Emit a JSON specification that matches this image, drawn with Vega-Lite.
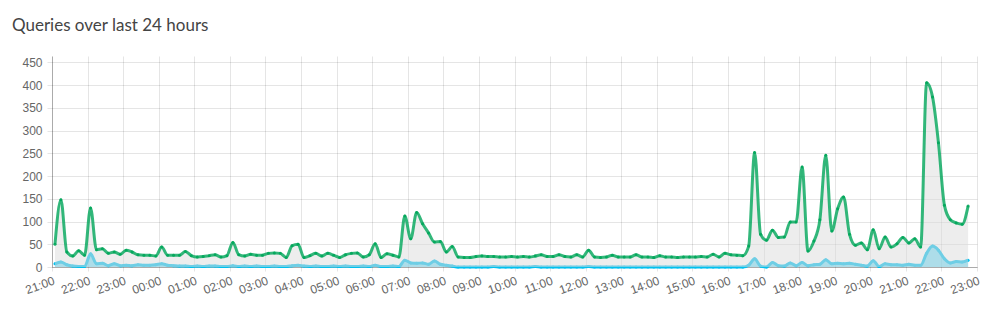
{
  "$schema": "https://vega.github.io/schema/vega-lite/v6.json",
  "autosize": {"type": "none"},
  "width": 925,
  "height": 211,
  "padding": {"left": 52, "top": 56, "right": 17, "bottom": 53},
  "background": "white",
  "title": {"text": "Queries over last 24 hours", "anchor": "start", "dx": -10, "offset": 21, "font": "Lato", "fontSize": 17, "fontWeight": "normal", "color": "#444"},
  "data": {"values": [
    {"t":"2024-01-01T21:05","total":50,"blocked":7},{"t":"2024-01-01T21:15","total":148,"blocked":11},{"t":"2024-01-01T21:25","total":33,"blocked":5},{"t":"2024-01-01T21:35","total":24,"blocked":2},{"t":"2024-01-01T21:45","total":36,"blocked":1},{"t":"2024-01-01T21:55","total":26,"blocked":1},
    {"t":"2024-01-01T22:05","total":130,"blocked":29},{"t":"2024-01-01T22:15","total":38,"blocked":7},{"t":"2024-01-01T22:25","total":40,"blocked":8},{"t":"2024-01-01T22:35","total":30,"blocked":3},{"t":"2024-01-01T22:45","total":33,"blocked":7},{"t":"2024-01-01T22:55","total":28,"blocked":3},
    {"t":"2024-01-01T23:05","total":37,"blocked":4},{"t":"2024-01-01T23:15","total":33,"blocked":3},{"t":"2024-01-01T23:25","total":27,"blocked":5},{"t":"2024-01-01T23:35","total":26,"blocked":4},{"t":"2024-01-01T23:45","total":26,"blocked":4},{"t":"2024-01-01T23:55","total":24,"blocked":5},
    {"t":"2024-01-02T00:05","total":44,"blocked":7},{"t":"2024-01-02T00:15","total":26,"blocked":4},{"t":"2024-01-02T00:25","total":26,"blocked":3},{"t":"2024-01-02T00:35","total":26,"blocked":2},{"t":"2024-01-02T00:45","total":34,"blocked":2},{"t":"2024-01-02T00:55","total":25,"blocked":1},
    {"t":"2024-01-02T01:05","total":22,"blocked":2},{"t":"2024-01-02T01:15","total":23,"blocked":1},{"t":"2024-01-02T01:25","total":25,"blocked":2},{"t":"2024-01-02T01:35","total":27,"blocked":2},{"t":"2024-01-02T01:45","total":22,"blocked":1},{"t":"2024-01-02T01:55","total":25,"blocked":1},
    {"t":"2024-01-02T02:05","total":54,"blocked":3},{"t":"2024-01-02T02:15","total":27,"blocked":1},{"t":"2024-01-02T02:25","total":24,"blocked":2},{"t":"2024-01-02T02:35","total":28,"blocked":1},{"t":"2024-01-02T02:45","total":26,"blocked":2},{"t":"2024-01-02T02:55","total":26,"blocked":1},
    {"t":"2024-01-02T03:05","total":30,"blocked":1},{"t":"2024-01-02T03:15","total":31,"blocked":2},{"t":"2024-01-02T03:25","total":30,"blocked":1},{"t":"2024-01-02T03:35","total":21,"blocked":1},{"t":"2024-01-02T03:45","total":47,"blocked":3},{"t":"2024-01-02T03:55","total":50,"blocked":4},
    {"t":"2024-01-02T04:05","total":21,"blocked":2},{"t":"2024-01-02T04:15","total":25,"blocked":1},{"t":"2024-01-02T04:25","total":30,"blocked":2},{"t":"2024-01-02T04:35","total":24,"blocked":1},{"t":"2024-01-02T04:45","total":30,"blocked":1},{"t":"2024-01-02T04:55","total":26,"blocked":2},
    {"t":"2024-01-02T05:05","total":21,"blocked":1},{"t":"2024-01-02T05:15","total":27,"blocked":2},{"t":"2024-01-02T05:25","total":30,"blocked":1},{"t":"2024-01-02T05:35","total":31,"blocked":1},{"t":"2024-01-02T05:45","total":22,"blocked":2},{"t":"2024-01-02T05:55","total":27,"blocked":1},
    {"t":"2024-01-02T06:05","total":51,"blocked":4},{"t":"2024-01-02T06:15","total":21,"blocked":1},{"t":"2024-01-02T06:25","total":29,"blocked":1},{"t":"2024-01-02T06:35","total":26,"blocked":2},{"t":"2024-01-02T06:45","total":22,"blocked":1},{"t":"2024-01-02T06:55","total":112,"blocked":15},
    {"t":"2024-01-02T07:05","total":62,"blocked":9},{"t":"2024-01-02T07:15","total":120,"blocked":8},{"t":"2024-01-02T07:25","total":95,"blocked":9},{"t":"2024-01-02T07:35","total":75,"blocked":6},{"t":"2024-01-02T07:45","total":55,"blocked":13},{"t":"2024-01-02T07:55","total":56,"blocked":6},
    {"t":"2024-01-02T08:05","total":33,"blocked":4},{"t":"2024-01-02T08:15","total":45,"blocked":2},{"t":"2024-01-02T08:25","total":22,"blocked":0},{"t":"2024-01-02T08:35","total":21,"blocked":0},{"t":"2024-01-02T08:45","total":21,"blocked":0},{"t":"2024-01-02T08:55","total":23,"blocked":0},
    {"t":"2024-01-02T09:05","total":24,"blocked":0},{"t":"2024-01-02T09:15","total":23,"blocked":0},{"t":"2024-01-02T09:25","total":23,"blocked":1},{"t":"2024-01-02T09:35","total":22,"blocked":0},{"t":"2024-01-02T09:45","total":22,"blocked":0},{"t":"2024-01-02T09:55","total":23,"blocked":0},
    {"t":"2024-01-02T10:05","total":22,"blocked":0},{"t":"2024-01-02T10:15","total":23,"blocked":0},{"t":"2024-01-02T10:25","total":22,"blocked":0},{"t":"2024-01-02T10:35","total":24,"blocked":1},{"t":"2024-01-02T10:45","total":27,"blocked":0},{"t":"2024-01-02T10:55","total":23,"blocked":0},
    {"t":"2024-01-02T11:05","total":23,"blocked":0},{"t":"2024-01-02T11:15","total":27,"blocked":0},{"t":"2024-01-02T11:25","total":23,"blocked":0},{"t":"2024-01-02T11:35","total":22,"blocked":0},{"t":"2024-01-02T11:45","total":27,"blocked":0},{"t":"2024-01-02T11:55","total":22,"blocked":0},
    {"t":"2024-01-02T12:05","total":37,"blocked":1},{"t":"2024-01-02T12:15","total":22,"blocked":0},{"t":"2024-01-02T12:25","total":21,"blocked":0},{"t":"2024-01-02T12:35","total":22,"blocked":0},{"t":"2024-01-02T12:45","total":26,"blocked":0},{"t":"2024-01-02T12:55","total":22,"blocked":0},
    {"t":"2024-01-02T13:05","total":22,"blocked":0},{"t":"2024-01-02T13:15","total":22,"blocked":0},{"t":"2024-01-02T13:25","total":27,"blocked":0},{"t":"2024-01-02T13:35","total":22,"blocked":0},{"t":"2024-01-02T13:45","total":22,"blocked":0},{"t":"2024-01-02T13:55","total":21,"blocked":0},
    {"t":"2024-01-02T14:05","total":25,"blocked":0},{"t":"2024-01-02T14:15","total":22,"blocked":0},{"t":"2024-01-02T14:25","total":22,"blocked":0},{"t":"2024-01-02T14:35","total":21,"blocked":0},{"t":"2024-01-02T14:45","total":22,"blocked":0},{"t":"2024-01-02T14:55","total":22,"blocked":0},
    {"t":"2024-01-02T15:05","total":22,"blocked":0},{"t":"2024-01-02T15:15","total":23,"blocked":0},{"t":"2024-01-02T15:25","total":22,"blocked":0},{"t":"2024-01-02T15:35","total":28,"blocked":0},{"t":"2024-01-02T15:45","total":22,"blocked":0},{"t":"2024-01-02T15:55","total":30,"blocked":0},
    {"t":"2024-01-02T16:05","total":27,"blocked":0},{"t":"2024-01-02T16:15","total":26,"blocked":0},{"t":"2024-01-02T16:25","total":25,"blocked":0},{"t":"2024-01-02T16:35","total":46,"blocked":4},{"t":"2024-01-02T16:45","total":252,"blocked":18},{"t":"2024-01-02T16:55","total":72,"blocked":2},
    {"t":"2024-01-02T17:05","total":59,"blocked":0},{"t":"2024-01-02T17:15","total":81,"blocked":10},{"t":"2024-01-02T17:25","total":65,"blocked":3},{"t":"2024-01-02T17:35","total":66,"blocked":2},{"t":"2024-01-02T17:45","total":99,"blocked":9},{"t":"2024-01-02T17:55","total":99,"blocked":3},
    {"t":"2024-01-02T18:05","total":220,"blocked":10},{"t":"2024-01-02T18:15","total":35,"blocked":3},{"t":"2024-01-02T18:25","total":57,"blocked":5},{"t":"2024-01-02T18:35","total":104,"blocked":6},{"t":"2024-01-02T18:45","total":246,"blocked":16},{"t":"2024-01-02T18:55","total":79,"blocked":7},
    {"t":"2024-01-02T19:05","total":128,"blocked":8},{"t":"2024-01-02T19:15","total":154,"blocked":7},{"t":"2024-01-02T19:25","total":72,"blocked":8},{"t":"2024-01-02T19:35","total":48,"blocked":6},{"t":"2024-01-02T19:45","total":53,"blocked":4},{"t":"2024-01-02T19:55","total":38,"blocked":2},
    {"t":"2024-01-02T20:05","total":82,"blocked":14},{"t":"2024-01-02T20:15","total":40,"blocked":1},{"t":"2024-01-02T20:25","total":66,"blocked":7},{"t":"2024-01-02T20:35","total":44,"blocked":5},{"t":"2024-01-02T20:45","total":51,"blocked":5},{"t":"2024-01-02T20:55","total":65,"blocked":4},
    {"t":"2024-01-02T21:05","total":53,"blocked":6},{"t":"2024-01-02T21:15","total":62,"blocked":4},{"t":"2024-01-02T21:25","total":44,"blocked":4},{"t":"2024-01-02T21:35","total":405,"blocked":30},{"t":"2024-01-02T21:45","total":374,"blocked":46},{"t":"2024-01-02T21:55","total":273,"blocked":37},
    {"t":"2024-01-02T22:05","total":136,"blocked":18},{"t":"2024-01-02T22:15","total":104,"blocked":9},{"t":"2024-01-02T22:25","total":97,"blocked":12},{"t":"2024-01-02T22:35","total":94,"blocked":11},{"t":"2024-01-02T22:45","total":134,"blocked":15}
  ]},
  "encoding": {
    "x": {
      "field": "t", "type": "temporal", "title": null,
      "scale": {"domain": [{"year": 2024, "month": 1, "date": 1, "hours": 21}, {"year": 2024, "month": 1, "date": 2, "hours": 23}]},
      "axis": {"format": "%H:%M", "tickCount": 26, "labelAngle": -20, "labelAlign": "right", "labelBaseline": "top", "labelPadding": 4, "tickSize": 4, "labelOverlap": false, "labelFlush": false}
    }
  },
  "layer": [
    {"mark": {"type": "area", "interpolate": "monotone", "color": "#00c0ef", "opacity": 0.5},
     "encoding": {"y": {"field": "blocked", "type": "quantitative", "title": null, "scale": {"domain": [0, 464], "nice": false}, "axis": {"values": [0, 50, 100, 150, 200, 250, 300, 350, 400, 450], "tickSize": 5, "labelPadding": 5}}}},
    {"mark": {"type": "line", "interpolate": "monotone", "color": "#00c0ef", "strokeWidth": 3},
     "encoding": {"y": {"field": "blocked", "type": "quantitative", "title": null, "axis": {"values": [0, 50, 100, 150, 200, 250, 300, 350, 400, 450], "tickSize": 5, "labelPadding": 5}}}},
    {"mark": {"type": "circle", "color": "#00c0ef", "size": 9, "opacity": 1},
     "encoding": {"y": {"field": "blocked", "type": "quantitative", "title": null, "axis": {"values": [0, 50, 100, 150, 200, 250, 300, 350, 400, 450], "tickSize": 5, "labelPadding": 5}}}},
    {"mark": {"type": "area", "interpolate": "monotone", "color": "#dcdcdc", "opacity": 0.5},
     "encoding": {"y": {"field": "total", "type": "quantitative", "title": null, "axis": {"values": [0, 50, 100, 150, 200, 250, 300, 350, 400, 450], "tickSize": 5, "labelPadding": 5}}}},
    {"mark": {"type": "line", "interpolate": "monotone", "color": "#00a65a", "opacity": 0.8, "strokeWidth": 3},
     "encoding": {"y": {"field": "total", "type": "quantitative", "title": null, "axis": {"values": [0, 50, 100, 150, 200, 250, 300, 350, 400, 450], "tickSize": 5, "labelPadding": 5}}}},
    {"mark": {"type": "circle", "color": "#00a65a", "size": 9, "opacity": 0.9},
     "encoding": {"y": {"field": "total", "type": "quantitative", "title": null, "axis": {"values": [0, 50, 100, 150, 200, 250, 300, 350, 400, 450], "tickSize": 5, "labelPadding": 5}}}}
  ],
  "config": {
    "view": {"stroke": null},
    "axis": {"gridColor": "#000", "gridOpacity": 0.1, "tickColor": "#000", "tickOpacity": 0.1, "domainColor": "#000", "domainOpacity": 0.25, "labelColor": "#666", "labelFont": "Liberation Sans", "labelFontSize": 12, "grid": true}
  }
}
